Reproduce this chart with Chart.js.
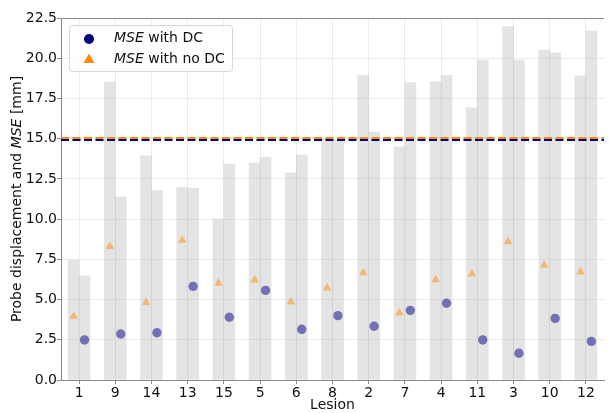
<!DOCTYPE html>
<html>
<head>
<meta charset="utf-8">
<script src="https://cdn.jsdelivr.net/npm/chart.js@4.4.1/dist/chart.umd.min.js"></script>
<style>
    body { margin: 0; background: #fff; }
    #wrap { width: 609px; height: 413px; }
</style>
</head>
<body>
<div id="wrap"><canvas id="lesionChart" width="609" height="413"></canvas></div>
<script>
// Данные
const lesions = ['1', '9', '14', '13', '15', '5', '6', '8', '2', '7', '4', '11', '3', '10', '12'];
const dispLeft = [7.46, 18.52, 13.94, 11.97, 10.0, 13.5, 12.87, 15.0, 18.94, 14.5, 18.54, 16.92, 21.96, 20.51, 18.91];
const dispRight = [6.48, 11.37, 11.77, 11.91, 13.42, 13.84, 13.98, 14.9, 15.41, 18.48, 18.94, 19.89, 19.89, 20.34, 21.69];
const mseDC = [2.49, 2.86, 2.94, 5.82, 3.9, 5.57, 3.15, 4.0, 3.34, 4.33, 4.77, 2.49, 1.66, 3.83, 2.4];
const mseNoDC = [3.97, 8.29, 4.81, 8.68, 6.01, 6.21, 4.85, 5.72, 6.67, 4.16, 6.23, 6.59, 8.6, 7.13, 6.71];
const meanDC = 14.92;
const meanNoDC = 15.04;
const yTicks = [0, 2.5, 5, 7.5, 10, 12.5, 15, 17.5, 20, 22.5];

const FONT = 'DejaVu Sans';
const NAVY = '#000080';
const ORANGE = '#ff8c00';

function shifted(values, dx) {
    return values.map((v, i) => ({ x: i + dx, y: v }));
}

function flatLine(v) {
    return [{ x: -0.5, y: v }, { x: lesions.length - 0.5, y: v }];
}

// Текст с курсивом "MSE"
function drawParts(ctx, parts, x, y, size) {
    parts.forEach(p => {
        ctx.font = (p.italic ? 'italic ' : '') + size + 'px "' + FONT + '"';
        ctx.fillText(p.text, x, y);
        x += ctx.measureText(p.text).width;
    });
}

function partsWidth(ctx, parts, size) {
    let w = 0;
    parts.forEach(p => {
        ctx.font = (p.italic ? 'italic ' : '') + size + 'px "' + FONT + '"';
        w += ctx.measureText(p.text).width;
    });
    return w;
}

const decorPlugin = {
    id: 'decor',
    afterDraw(chart) {
        const ctx = chart.ctx;
        const area = chart.chartArea;
        ctx.save();

        // верхняя рамка
        ctx.strokeStyle = '#888';
        ctx.lineWidth = 1;
        ctx.beginPath();
        ctx.moveTo(area.left, area.top + 0.5);
        ctx.lineTo(area.right, area.top + 0.5);
        ctx.stroke();

        // подпись оси Y
        const yParts = [
            { text: 'Probe displacement and ' },
            { text: 'MSE', italic: true },
            { text: ' [mm]' }
        ];
        ctx.fillStyle = '#111';
        ctx.textBaseline = 'middle';
        ctx.textAlign = 'left';
        const w = partsWidth(ctx, yParts, 14);
        ctx.translate(17, (area.top + area.bottom) / 2);
        ctx.rotate(-Math.PI / 2);
        drawParts(ctx, yParts, -w / 2, 0, 14);
        ctx.setTransform(1, 0, 0, 1, 0, 0);

        // подпись оси X
        ctx.font = '14px "' + FONT + '"';
        ctx.textAlign = 'center';
        ctx.fillText('Lesion', (area.left + area.right) / 2, 405);

        // легенда
        const lx = 69, ly = 25, lw = 163, lh = 46;
        ctx.fillStyle = 'rgba(255,255,255,0.8)';
        ctx.strokeStyle = '#d8d8d8';
        ctx.beginPath();
        ctx.roundRect(lx + 0.5, ly + 0.5, lw, lh, 3);
        ctx.fill();
        ctx.stroke();

        ctx.fillStyle = NAVY;
        ctx.beginPath();
        ctx.arc(89, 39, 5, 0, Math.PI * 2);
        ctx.fill();

        ctx.fillStyle = ORANGE;
        ctx.beginPath();
        ctx.moveTo(89, 53.5);
        ctx.lineTo(94.5, 63);
        ctx.lineTo(83.5, 63);
        ctx.closePath();
        ctx.fill();

        ctx.fillStyle = '#111';
        ctx.textAlign = 'left';
        drawParts(ctx, [{ text: 'MSE', italic: true }, { text: ' with DC' }], 114, 38, 14);
        drawParts(ctx, [{ text: 'MSE', italic: true }, { text: ' with no DC' }], 114, 59, 14);

        ctx.restore();
    }
};

const ctx = document.getElementById('lesionChart').getContext('2d');
new Chart(ctx, {
    data: {
        labels: lesions,
        datasets: [
            {
                type: 'line',
                label: 'mean no DC',
                data: flatLine(meanNoDC),
                xAxisID: 'x2',
                borderColor: ORANGE,
                borderWidth: 2,
                borderDash: [8, 3.5],
                pointRadius: 0,
                order: 0
            },
            {
                type: 'line',
                label: 'mean DC',
                data: flatLine(meanDC),
                xAxisID: 'x2',
                borderColor: NAVY,
                borderWidth: 2,
                borderDash: [8, 3.5],
                pointRadius: 0,
                order: 0
            },
            {
                type: 'scatter',
                label: 'MSE with DC',
                data: shifted(mseDC, 0.15),
                xAxisID: 'x2',
                backgroundColor: 'rgba(0,0,128,0.5)',
                borderWidth: 0,
                pointStyle: 'circle',
                pointRadius: 4.7,
                order: 1
            },
            {
                type: 'scatter',
                label: 'MSE with no DC',
                data: shifted(mseNoDC, -0.15),
                xAxisID: 'x2',
                backgroundColor: 'rgba(255,140,0,0.5)',
                borderWidth: 0,
                pointStyle: 'triangle',
                pointRadius: 5,
                order: 1
            },
            {
                type: 'bar',
                label: 'left',
                data: dispLeft,
                xAxisID: 'x',
                backgroundColor: 'rgba(195,195,195,0.45)',
                barThickness: 11,
                order: 3
            },
            {
                type: 'bar',
                label: 'right',
                data: dispRight,
                xAxisID: 'x',
                backgroundColor: 'rgba(195,195,195,0.45)',
                barThickness: 11,
                order: 3
            }
        ]
    },
    options: {
        responsive: false,
        animation: false,
        devicePixelRatio: 1,
        layout: { padding: { top: 18, right: 0, left: 0, bottom: 0 } },
        plugins: {
            legend: { display: false },
            tooltip: { enabled: false }
        },
        scales: {
            x: {
                type: 'category',
                offset: true,
                grid: {
                    offset: false,
                    color: '#ececec',
                    tickColor: '#888',
                    tickLength: 4
                },
                border: { color: '#888' },
                ticks: {
                    color: '#111',
                    padding: 1,
                    font: { family: FONT, size: 14 },
                    maxRotation: 0
                },
                afterFit(scale) { scale.height = 33; }
            },
            x2: {
                type: 'linear',
                display: false,
                min: -0.5,
                max: lesions.length - 0.5
            },
            y: {
                min: 0,
                max: 22.5,
                afterBuildTicks(scale) {
                    scale.ticks = yTicks.map(v => ({ value: v }));
                },
                grid: {
                    color: '#ececec',
                    tickColor: '#888',
                    tickLength: 4
                },
                border: { color: '#888' },
                ticks: {
                    color: '#111',
                    padding: 0,
                    font: { family: FONT, size: 14 },
                    callback: v => v.toFixed(1)
                },
                afterFit(scale) { scale.width = 61; }
            }
        }
    },
    plugins: [decorPlugin]
});
</script>
</body>
</html>
